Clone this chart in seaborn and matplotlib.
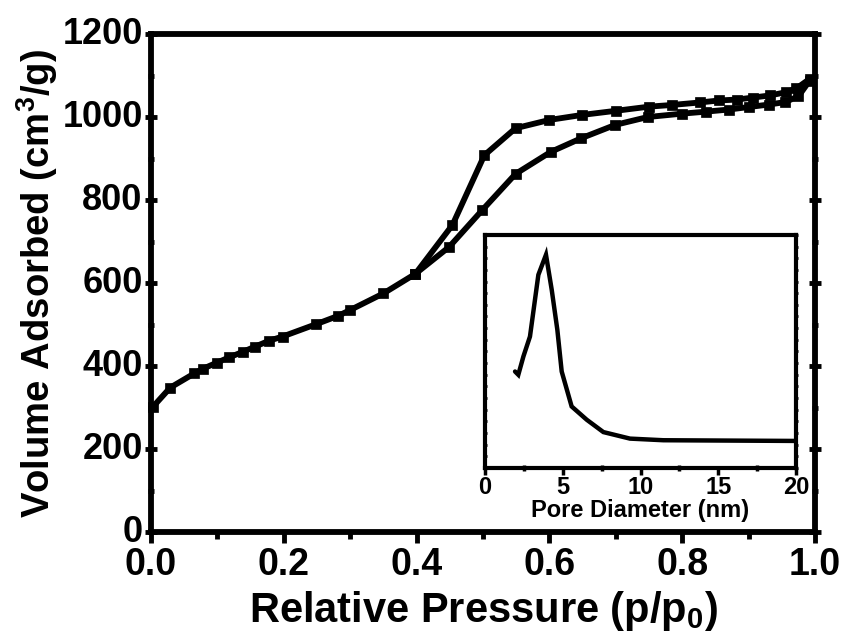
import matplotlib
matplotlib.use("Agg")
import matplotlib.pyplot as plt
import seaborn as sns
import pandas as pd
from matplotlib.ticker import MultipleLocator, FormatStrFormatter

# ---- data ----
ads_p = [0.003, 0.029, 0.065, 0.079, 0.099, 0.118, 0.138, 0.157, 0.178, 0.198,
         0.249, 0.282, 0.300, 0.350, 0.398, 0.449, 0.499, 0.549, 0.602, 0.648,
         0.699, 0.748, 0.799, 0.836, 0.870, 0.900, 0.930, 0.955, 0.975, 0.992]
ads_v = [302, 348, 382, 394, 408, 421, 434, 447, 461, 471,
         501, 521, 535, 575, 622, 687, 776, 863, 916, 949,
         981, 1000, 1008, 1013, 1018, 1024, 1030, 1036, 1050, 1088]
des_p = [0.992, 0.972, 0.957, 0.932, 0.907, 0.882, 0.856, 0.826, 0.784, 0.750,
         0.700, 0.649, 0.600, 0.549, 0.502, 0.454, 0.398]
des_v = [1092, 1069, 1060, 1052, 1047, 1042, 1040, 1035, 1029, 1025,
         1015, 1005, 993, 973, 908, 740, 622]

pore_d = [1.93, 2.14, 2.47, 2.89, 3.43, 3.92, 4.29, 4.65, 4.93, 5.57,
          6.54, 7.61, 9.32, 11.47, 20.0]
pore_v = [0.414, 0.400, 0.479, 0.564, 0.829, 0.915, 0.764, 0.593, 0.414, 0.264,
          0.207, 0.154, 0.126, 0.119, 0.116]

x_ticks = [0.0, 0.2, 0.4, 0.6, 0.8, 1.0]
y_ticks = [0, 200, 400, 600, 800, 1000, 1200]
inset_x_ticks = [0, 5, 10, 15, 20]

# ---- style ----
sns.set_style("ticks")
plt.rcParams['font.family'] = ['Liberation Sans', 'DejaVu Sans']
plt.rcParams['font.weight'] = 'bold'
plt.rcParams['mathtext.default'] = 'regular'
for k in ['text.color', 'axes.labelcolor', 'xtick.color', 'ytick.color', 'axes.edgecolor']:
    plt.rcParams[k] = 'black'

fig = plt.figure(figsize=(8.49, 6.36), dpi=100)
ax = fig.add_axes([0.1779, 0.1635, 0.7821, 0.783])

ads = pd.DataFrame({"p": ads_p, "v": ads_v})
des = pd.DataFrame({"p": des_p, "v": des_v})
for df in (ads, des):
    sns.lineplot(data=df, x="p", y="v", sort=False, ax=ax, color="black",
                 linewidth=4.2, marker="s", markersize=7.5,
                 markeredgecolor="black", markeredgewidth=0.5, clip_on=False)

ax.set_xlim(0, 1.0)
ax.set_ylim(0, 1200)
ax.set_xticks(x_ticks)
ax.set_yticks(y_ticks)
ax.xaxis.set_major_formatter(FormatStrFormatter('%.1f'))
ax.xaxis.set_minor_locator(MultipleLocator(0.1))
ax.yaxis.set_minor_locator(MultipleLocator(100))
for s in ax.spines.values():
    s.set_linewidth(4.2)
    s.set_visible(True)
    s.set_color('black')
ax.tick_params(axis='both', which='major', direction='out', length=8, width=3.5, pad=2)
ax.tick_params(axis='both', which='minor', direction='out', length=5, width=3.5)
ax.tick_params(axis='y', which='both', right=True, labelright=False)
ax.tick_params(axis='y', which='both', direction='inout')
ax.tick_params(axis='y', which='major', left=True, length=8)
ax.tick_params(axis='x', which='major', pad=3)
for lab in ax.get_yticklabels():
    lab.set_fontsize(26)
    lab.set_fontweight('bold')
    lab.set_verticalalignment('center')
for lab in ax.get_xticklabels():
    lab.set_fontsize(27)
    lab.set_fontweight('bold')

ax.set_xlabel("Relative Pressure (p/p$_0$)", fontsize=30, fontweight='bold', labelpad=4)
ax.set_ylabel("Volume Adsorbed (cm$^3$/g)", fontsize=27.5, fontweight='bold', labelpad=2)

# ---- inset ----
axi = fig.add_axes([0.5713, 0.2642, 0.3663, 0.3664])
pore = pd.DataFrame({"d": pore_d, "v": pore_v})
sns.lineplot(data=pore, x="d", y="v", sort=False, ax=axi, color="black",
             linewidth=3.2, solid_joinstyle='miter')
axi.set_xlim(0, 20)
axi.set_ylim(0, 1.0)
axi.set_xticks(inset_x_ticks)
axi.xaxis.set_minor_locator(MultipleLocator(2.5))
axi.yaxis.set_major_locator(MultipleLocator(0.1))
axi.yaxis.set_minor_locator(MultipleLocator(0.05))
axi.set_yticklabels([])
for s in axi.spines.values():
    s.set_linewidth(3)
    s.set_visible(True)
    s.set_color('black')
axi.tick_params(axis='x', which='major', direction='out', length=5, width=2.5, pad=1)
axi.tick_params(axis='x', which='minor', direction='inout', length=4, width=2.5)
axi.tick_params(axis='y', which='both', direction='inout', length=3, width=2,
                left=True, right=True, labelleft=False)
for lab in axi.get_xticklabels():
    lab.set_fontsize(17)
    lab.set_fontweight('bold')
axi.set_xlabel("Pore Diameter (nm)", fontsize=17, fontweight='bold', labelpad=0)
axi.set_ylabel("")

fig.savefig("out.png", dpi=100)
